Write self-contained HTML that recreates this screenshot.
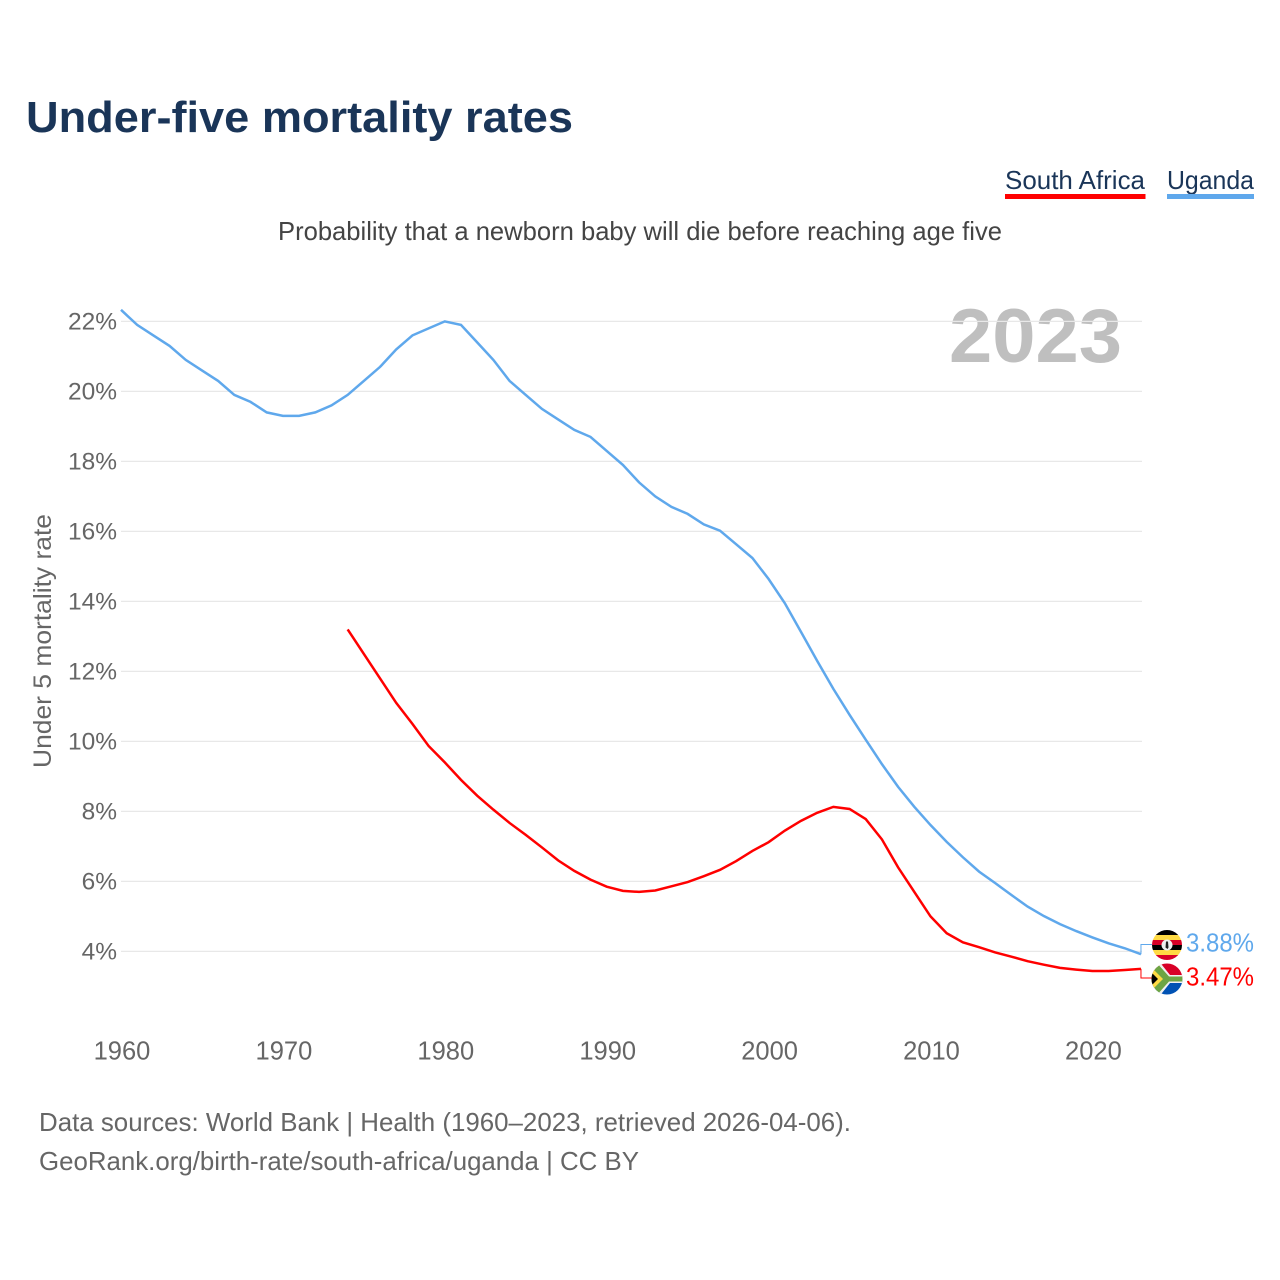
<!DOCTYPE html>
<html lang="en">
<head>
<meta charset="utf-8">
<title>Under-five mortality rates</title>
<style>
html,body{margin:0;padding:0;background:#fff;}
svg{display:block;font-family:"Liberation Sans",sans-serif;}
</style>
</head>
<body>
<svg id="chart" width="1280" height="1280" viewBox="0 0 1280 1280" xmlns="http://www.w3.org/2000/svg">
  <rect width="1280" height="1280" fill="#fff"/>
  <text x="26" y="132" font-size="44" font-weight="700" fill="#1a3558" textLength="547" lengthAdjust="spacingAndGlyphs">Under-five mortality rates</text>
  <g>
    <text x="1005" y="189" font-size="26" fill="#1a3558" textLength="140" lengthAdjust="spacingAndGlyphs">South Africa</text>
    <rect x="1005" y="194" width="140.5" height="5" fill="#ff0000"/>
  </g>
  <g>
    <text x="1167" y="189" font-size="26" fill="#1a3558" textLength="87" lengthAdjust="spacingAndGlyphs">Uganda</text>
    <rect x="1167" y="194" width="87" height="5" fill="#5fa8ec"/>
  </g>
  <text x="278" y="240" font-size="26" fill="#444" textLength="724" lengthAdjust="spacingAndGlyphs">Probability that a newborn baby will die before reaching age five</text>
  <text x="949" y="362" font-size="76" font-weight="700" fill="#bfbfbf" textLength="173" lengthAdjust="spacingAndGlyphs">2023</text>
  <text transform="translate(51,768) rotate(-90)" font-size="25" fill="#666" textLength="254" lengthAdjust="spacingAndGlyphs">Under 5 mortality rate</text>
  <g id="grid"></g>
  <g id="yticks"></g>
  <g id="xticks"></g>
  <g id="series"></g>
  <defs>
    <clipPath id="clip-ug"><circle cx="1167" cy="945" r="15"/></clipPath>
    <clipPath id="clip-za"><circle cx="1167" cy="979" r="15.5"/></clipPath>
  </defs>
  <g clip-path="url(#clip-ug)">
    <rect x="1151" y="930" width="32" height="5" fill="#000"/>
    <rect x="1151" y="935" width="32" height="5" fill="#ffda44"/>
    <rect x="1151" y="940" width="32" height="5" fill="#d80027"/>
    <rect x="1151" y="945" width="32" height="5" fill="#000"/>
    <rect x="1151" y="950" width="32" height="5" fill="#ffda44"/>
    <rect x="1151" y="955" width="32" height="5" fill="#d80027"/>
    <circle cx="1167" cy="945" r="5.5" fill="#f0f0f0"/>
    <path d="M1166 941.5h2l.5 6-1 1.5-2-1.5z" fill="#222"/>
  </g>
  <g clip-path="url(#clip-za)">
    <rect x="1151" y="963" width="33" height="16" fill="#d80027"/>
    <rect x="1151" y="979" width="33" height="16" fill="#0052b4"/>
    <path d="M1150 960h8l12 15h14v8h-14l-12 15h-8z" fill="#f0f0f0"/>
    <path d="M1150 962h6l13 14.5h15v5h-15l-13 14.5h-6z" fill="#6da544"/>
    <path d="M1150 966l13 13-13 13z" fill="#ffda44"/>
    <path d="M1150 971l8 8-8 8z" fill="#000"/>
  </g>
  <text x="1186" y="951.5" font-size="25.5" fill="#5fa8ec" textLength="68" lengthAdjust="spacingAndGlyphs">3.88%</text>
  <text x="1186" y="985.5" font-size="25.5" fill="#ff0000" textLength="68" lengthAdjust="spacingAndGlyphs">3.47%</text>
  <text x="39" y="1131" font-size="26" fill="#666" textLength="812" lengthAdjust="spacingAndGlyphs">Data sources: World Bank | Health (1960–2023, retrieved 2026-04-06).</text>
  <text x="39" y="1170" font-size="26" fill="#666" textLength="600" lengthAdjust="spacingAndGlyphs">GeoRank.org/birth-rate/south-africa/uganda | CC BY</text>
</svg>
<script>
const yTickValues = [4, 6, 8, 10, 12, 14, 16, 18, 20, 22];
const xTickValues = [1960, 1970, 1980, 1990, 2000, 2010, 2020];
const ugandaStartYear = 1960;
const ugandaValues = [22.33, 21.9, 21.6, 21.3, 20.9, 20.6, 20.3, 19.9, 19.7, 19.4, 19.3, 19.3, 19.4, 19.6, 19.9, 20.3, 20.7, 21.2, 21.6, 21.8, 22.0, 21.9, 21.4, 20.9, 20.3, 19.9, 19.5, 19.2, 18.9, 18.7, 18.3, 17.9, 17.4, 17.0, 16.7, 16.5, 16.2, 16.02, 15.63, 15.24, 14.64, 13.95, 13.13, 12.3, 11.5, 10.76, 10.05, 9.35, 8.7, 8.13, 7.61, 7.13, 6.69, 6.28, 5.95, 5.61, 5.28, 5.01, 4.78, 4.58, 4.4, 4.23, 4.09, 3.92];
const southAfricaStartYear = 1974;
const southAfricaValues = [13.2, 12.5, 11.8, 11.1, 10.5, 9.87, 9.4, 8.9, 8.45, 8.05, 7.67, 7.33, 6.97, 6.6, 6.3, 6.05, 5.85, 5.73, 5.7, 5.74, 5.86, 5.98, 6.15, 6.33, 6.58, 6.87, 7.12, 7.45, 7.73, 7.96, 8.13, 8.07, 7.78, 7.2, 6.4, 5.7, 5.0, 4.52, 4.26, 4.12, 3.97, 3.85, 3.72, 3.62, 3.53, 3.48, 3.44, 3.44, 3.47, 3.5];

const NS = 'http://www.w3.org/2000/svg';
function xScale(year) { return 121 + (year - 1960) * 16.19; }
function yScale(value) { return 951.4 - (value - 4) * 35; }

const gridGroup = document.getElementById('grid');
const yTickGroup = document.getElementById('yticks');
const xTickGroup = document.getElementById('xticks');
const seriesGroup = document.getElementById('series');

yTickValues.forEach(function (v) {
  const line = document.createElementNS(NS, 'line');
  
  
  line.setAttribute('x1', 121);
  line.setAttribute('x2', 1142);
  line.setAttribute('y1', yScale(v));
  line.setAttribute('y2', yScale(v));
  line.setAttribute('stroke', '#e8e8e8');
  line.setAttribute('stroke-width', '1.2');
  gridGroup.appendChild(line);

  const label = document.createElementNS(NS, 'text');
  
  
  label.setAttribute('x', 117);
  label.setAttribute('y', yScale(v) + 8);
  label.setAttribute('text-anchor', 'end');
  label.setAttribute('font-size', '24.5');
  label.setAttribute('fill', '#666');
  label.textContent = v + '%';
  yTickGroup.appendChild(label);
});

xTickValues.forEach(function (yr) {
  const label = document.createElementNS(NS, 'text');
  
  
  label.setAttribute('x', xScale(yr) + 1);
  label.setAttribute('y', 1059.5);
  label.setAttribute('text-anchor', 'middle');
  label.setAttribute('font-size', '25.5');
  label.setAttribute('fill', '#666');
  label.textContent = String(yr);
  xTickGroup.appendChild(label);
});

function seriesPoints(startYear, values) {
  return values.map(function (v, i) {
    return xScale(startYear + i).toFixed(2) + ',' + yScale(v).toFixed(2);
  }).join(' ');
}
function lastPoint(startYear, values) {
  const i = values.length - 1;
  return [xScale(startYear + i), yScale(values[i])];
}

const ugandaLine = document.createElementNS(NS, 'polyline');


ugandaLine.setAttribute('points', seriesPoints(ugandaStartYear, ugandaValues));
ugandaLine.setAttribute('fill', 'none');
ugandaLine.setAttribute('stroke', '#5fa8ec');
ugandaLine.setAttribute('stroke-width', '2.5');
seriesGroup.appendChild(ugandaLine);

const southAfricaLine = document.createElementNS(NS, 'polyline');


southAfricaLine.setAttribute('points', seriesPoints(southAfricaStartYear, southAfricaValues));
southAfricaLine.setAttribute('fill', 'none');
southAfricaLine.setAttribute('stroke', '#ff0000');
southAfricaLine.setAttribute('stroke-width', '2.5');
seriesGroup.appendChild(southAfricaLine);

const ugandaEnd = lastPoint(ugandaStartYear, ugandaValues);
const ugandaLeader = document.createElementNS(NS, 'polyline');


ugandaLeader.setAttribute('points', ugandaEnd[0] + ',' + ugandaEnd[1] + ' ' + ugandaEnd[0] + ',944.5 1152,944.5');
ugandaLeader.setAttribute('fill', 'none');
ugandaLeader.setAttribute('stroke', '#5fa8ec');
ugandaLeader.setAttribute('stroke-width', '1');
seriesGroup.appendChild(ugandaLeader);

const southAfricaEnd = lastPoint(southAfricaStartYear, southAfricaValues);
const southAfricaLeader = document.createElementNS(NS, 'polyline');


southAfricaLeader.setAttribute('points', southAfricaEnd[0] + ',' + southAfricaEnd[1] + ' ' + southAfricaEnd[0] + ',978 1152,978');
southAfricaLeader.setAttribute('fill', 'none');
southAfricaLeader.setAttribute('stroke', '#ff0000');
southAfricaLeader.setAttribute('stroke-width', '1');
seriesGroup.appendChild(southAfricaLeader);
</script>
</body>
</html>
